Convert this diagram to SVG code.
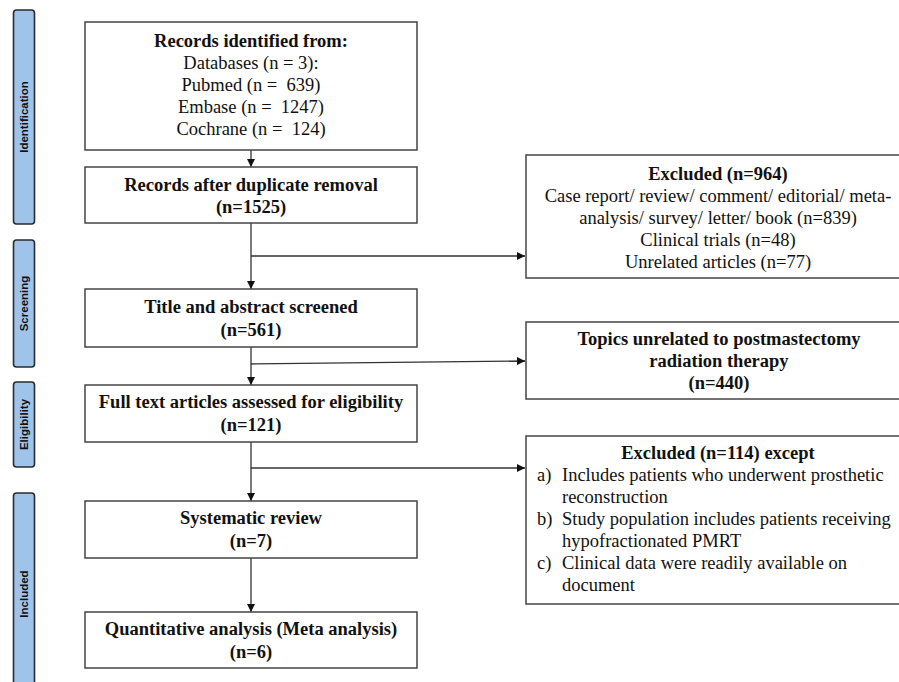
<svg xmlns="http://www.w3.org/2000/svg" width="899" height="682" viewBox="0 0 899 682">
<defs>
<style>
.bar{fill:#9fc3e9;stroke:#2b2b2b;stroke-width:1.6}
.bt{font-family:"Liberation Sans",Arial,sans-serif;font-weight:bold;font-size:11.5px;fill:#111;text-anchor:middle}
.box{fill:#fff;stroke:#444;stroke-width:1.5}
.t{font-family:"Liberation Serif","Times New Roman",serif;font-size:18.5px;fill:#111;text-anchor:middle}
.b{font-weight:bold}
.l{text-anchor:start}
.c{fill:none;stroke:#333;stroke-width:1.3}
</style>
<marker id="ah" viewBox="0 0 10 10" refX="10" refY="5" markerWidth="8" markerHeight="8" markerUnits="userSpaceOnUse" orient="auto">
<path d="M0,0 L10,5 L0,10 z" fill="#111"/>
</marker>
</defs>
<rect width="899" height="682" fill="#fff"/>

<g id="phase-identification">
<rect class="bar" x="13.5" y="10" width="21" height="214" rx="3"/>
<text class="bt" transform="translate(28,117) rotate(-90)">Identification</text>
</g>
<g id="phase-screening">
<rect class="bar" x="13.5" y="240" width="21" height="127" rx="3"/>
<text class="bt" transform="translate(28,303.5) rotate(-90)">Screening</text>
</g>
<g id="phase-eligibility">
<rect class="bar" x="13.5" y="382" width="21" height="85" rx="3"/>
<text class="bt" transform="translate(28,424.5) rotate(-90)">Eligibility</text>
</g>
<g id="phase-included">
<rect class="bar" x="13.5" y="493" width="21" height="205" rx="3"/>
<text class="bt" transform="translate(28,594) rotate(-90)">Included</text>
</g>

<g id="connectors">
<line class="c" x1="251" y1="150" x2="251" y2="167" marker-end="url(#ah)"/>
<line class="c" x1="251" y1="223" x2="251" y2="289" marker-end="url(#ah)"/>
<line class="c" x1="251" y1="256" x2="525" y2="256" marker-end="url(#ah)"/>
<line class="c" x1="251" y1="347" x2="251" y2="385" marker-end="url(#ah)"/>
<line class="c" x1="251" y1="364" x2="525" y2="361" marker-end="url(#ah)"/>
<line class="c" x1="251" y1="442" x2="251" y2="501" marker-end="url(#ah)"/>
<line class="c" x1="251" y1="468" x2="525" y2="468" marker-end="url(#ah)"/>
<line class="c" x1="251" y1="558" x2="251" y2="612" marker-end="url(#ah)"/>
</g>

<g id="n-identified">
<rect class="box" x="85" y="22" width="332" height="128"/>
<text class="t b" x="251" y="47">Records identified from:</text>
<text class="t" x="251" y="69">Databases (n = 3):</text>
<text class="t" x="251" y="91" xml:space="preserve">Pubmed (n =  639)</text>
<text class="t" x="251" y="113" xml:space="preserve">Embase (n =  1247)</text>
<text class="t" x="251" y="135" xml:space="preserve">Cochrane (n =  124)</text>
</g>

<g id="n-dedup">
<rect class="box" x="85" y="167" width="332" height="56"/>
<text class="t b" x="251" y="191">Records after duplicate removal</text>
<text class="t b" x="251" y="213">(n=1525)</text>
</g>

<g id="n-excluded1">
<rect class="box" x="526" y="155" width="390" height="123"/>
<text class="t b" x="718" y="180">Excluded (n=964)</text>
<text class="t" x="718" y="202">Case report/ review/ comment/ editorial/ meta-</text>
<text class="t" x="718" y="224">analysis/ survey/ letter/ book (n=839)</text>
<text class="t" x="718" y="246">Clinical trials (n=48)</text>
<text class="t" x="718" y="268">Unrelated articles (n=77)</text>
</g>

<g id="n-screened">
<rect class="box" x="85" y="289" width="332" height="58"/>
<text class="t b" x="251" y="313">Title and abstract screened</text>
<text class="t b" x="251" y="336">(n=561)</text>
</g>

<g id="n-topics">
<rect class="box" x="526" y="322" width="390" height="77"/>
<text class="t b" x="719" y="345">Topics unrelated to postmastectomy</text>
<text class="t b" x="719" y="367">radiation therapy</text>
<text class="t b" x="719" y="389">(n=440)</text>
</g>

<g id="n-fulltext">
<rect class="box" x="85" y="385" width="332" height="57"/>
<text class="t b" x="251" y="408">Full text articles assessed for eligibility</text>
<text class="t b" x="251" y="431">(n=121)</text>
</g>

<g id="n-excluded2">
<rect class="box" x="526" y="436" width="390" height="168"/>
<text class="t b" x="718" y="459">Excluded (n=114) except</text>
<text class="t l" x="537" y="481">a)</text>
<text class="t l" x="562" y="481">Includes patients who underwent prosthetic</text>
<text class="t l" x="562" y="503">reconstruction</text>
<text class="t l" x="537" y="525">b)</text>
<text class="t l" x="562" y="525">Study population includes patients receiving</text>
<text class="t l" x="562" y="547">hypofractionated PMRT</text>
<text class="t l" x="537" y="569">c)</text>
<text class="t l" x="562" y="569">Clinical data were readily available on</text>
<text class="t l" x="562" y="591">document</text>
</g>

<g id="n-systematic">
<rect class="box" x="85" y="501" width="332" height="57"/>
<text class="t b" x="251" y="524">Systematic review</text>
<text class="t b" x="251" y="547">(n=7)</text>
</g>

<g id="n-meta">
<rect class="box" x="85" y="612" width="332" height="56"/>
<text class="t b" x="251" y="635">Quantitative analysis (Meta analysis)</text>
<text class="t b" x="251" y="658">(n=6)</text>
</g>
</svg>
